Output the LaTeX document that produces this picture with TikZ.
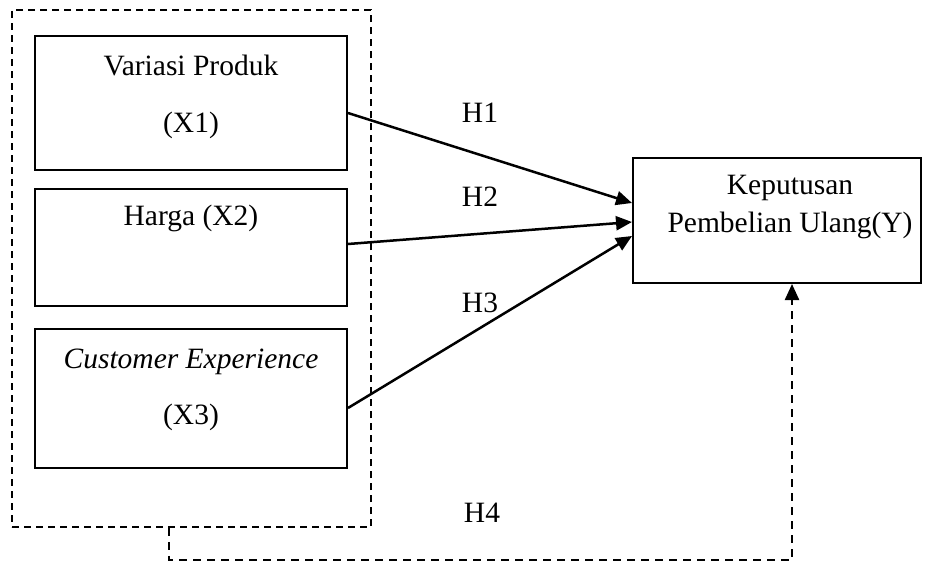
\documentclass[tikz,border=0pt]{standalone}
\usepackage{fontspec}
\setmainfont{Liberation Serif}
\usetikzlibrary{arrows.meta}
\begin{document}
\begin{tikzpicture}[x=1pt,y=-1pt,
  varbox/.style={draw,line width=2pt,minimum width=312pt,inner sep=0pt},
  outerbox/.style={draw,line width=1.8pt,dash pattern=on 7pt off 5pt,inner sep=0pt,minimum width=359pt,minimum height=517pt},
  ybox/.style={draw,line width=2pt,minimum width=288pt,minimum height=125pt,inner sep=0pt},
  txt/.style={inner sep=0pt,font=\fontsize{29.5}{35}\selectfont},
  conn/.style={line width=2.5pt,-{Triangle[length=16pt,width=14pt]}},
  dconn/.style={line width=2.3pt,dash pattern=on 8pt off 6pt,-{Triangle[length=16pt,width=14pt]}}]
\useasboundingbox (0,0) rectangle (936,562);
\node[outerbox] (outer) at (191.5,268.5) {};
\node[varbox,minimum height=134pt] (b1) at (191,103) {};
\node[varbox,minimum height=117pt] (b2) at (191,247.5) {};
\node[varbox,minimum height=139pt] (b3) at (191,398.5) {};
\node[ybox] (y) at (777,220.5) {};
\node[txt] (t1a) at (191,65) {Variasi Produk};
\node[txt] (t1b) at (191,125) {(X1)};
\node[txt] (t2) at (191,218) {Harga (X2)};
\node[txt] (t3a) at (191,362) {\itshape Customer Experience};
\node[txt] (t3b) at (191,417) {(X3)};
\node[txt] (ya) at (790,188) {Keputusan};
\node[txt] (yb) at (790,225) {Pembelian Ulang(Y)};
\node[txt] (h1) at (480,113) {H1};
\node[txt] (h2) at (480,197) {H2};
\node[txt] (h3) at (480,303) {H3};
\node[txt] (h4) at (482,513) {H4};
\draw[conn] ([yshift=-10pt]b1.east) -- ([yshift=17.5pt]y.west);
\draw[conn] ([yshift=3.5pt]b2.east) -- ([yshift=-1.5pt]y.west);
\draw[conn] ([yshift=-9.5pt]b3.east) -- ([yshift=-15.5pt]y.west);
\coordinate (c1) at ([xshift=-22.5pt,yshift=-32pt]outer.south);
\draw[dconn] ([xshift=-22.5pt]outer.south) -- (c1) -| ([xshift=15pt]y.south);
\end{tikzpicture}
\end{document}
